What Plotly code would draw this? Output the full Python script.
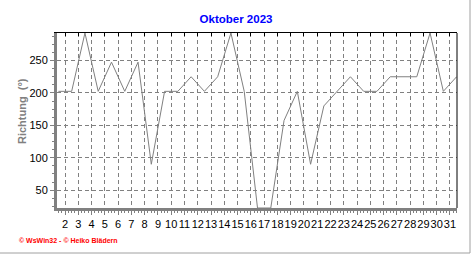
import plotly.graph_objects as go

# Data: daily wind direction (degrees), October 2023
days = list(range(1, 32))
direction = [202.5, 202.5, 292.5, 202.5, 247.5, 202.5, 247.5, 90, 202.5, 202.5,
             225, 202.5, 225, 292.5, 202.5, 22.5, 22.5, 157.5, 202.5, 90,
             180, 202.5, 225, 202.5, 202.5, 225, 225, 225, 292.5, 202.5, 225]
tick_days = list(range(2, 32))
y_ticks = [50, 100, 150, 200, 250]

title_text = "Oktober 2023"
y_title = "Richtung  (°)"
credit = "© WsWin32 - © Heiko Blädern"

GRAY = "#808080"
W, H = 472, 255
ML, MR, MT, MB = 57, 15, 33, 47
PW, PH = W - ML - MR, H - MT - MB

fig = go.Figure()
fig.add_trace(go.Scatter(x=days, y=direction, mode="lines",
                         line=dict(color=GRAY, width=1), hoverinfo="skip",
                         showlegend=False, cliponaxis=True))
# invisible trace to host the top axis (for inward ticks)
fig.add_trace(go.Scatter(x=[days[0]], y=[direction[0]], xaxis="x2", mode="markers",
                         marker=dict(opacity=0), hoverinfo="skip", showlegend=False))

xrange = [0.895, 31.03]
yrange = [22.5, 292.5]
tickpos = [d - 0.5 for d in tick_days]

fig.update_layout(
    width=W, height=H,
    margin=dict(l=ML, r=MR, t=MT, b=MB, pad=0),
    paper_bgcolor="white", plot_bgcolor="white",
    font=dict(family="Liberation Sans, Arial, sans-serif", size=11, color="black"),
    title=dict(text="<b>" + title_text + "</b>", x=0.5, xref="container", xanchor="center",
               y=1 - 19 / H, yref="container", yanchor="middle",
               font=dict(size=11.5, color="#0000ff", family="Liberation Sans, Arial, sans-serif")),
    xaxis=dict(range=xrange, tickvals=tickpos, ticktext=[str(d) for d in tick_days],
               tickangle=0,
               showgrid=True, gridcolor=GRAY, griddash="4px,3px", gridwidth=1,
               showline=True, linecolor=GRAY, linewidth=3,
               ticks="outside", ticklen=4, tickcolor=GRAY, tickwidth=1,
               minor=dict(dtick=0.25, tick0=0.5, ticks="outside", ticklen=2,
                          tickcolor=GRAY, showgrid=False),
               tickfont=dict(size=11, color="black"), zeroline=False, fixedrange=True),
    xaxis2=dict(range=xrange, overlaying="x", side="top", tickvals=tickpos,
                showticklabels=False, showgrid=False, showline=True, linecolor="black",
                linewidth=1, ticks="inside", ticklen=3, tickcolor="black", zeroline=False),
    yaxis=dict(range=yrange, tickvals=y_ticks,
               showgrid=True, gridcolor=GRAY, griddash="4px,3px", gridwidth=1,
               showline=True, linecolor=GRAY, linewidth=3,
               ticks="outside", ticklen=4, tickcolor=GRAY, tickwidth=1,
               minor=dict(dtick=12.5, tick0=0, ticks="outside", ticklen=2,
                          tickcolor=GRAY, showgrid=False),
               tickfont=dict(size=11, color="black"), zeroline=False, fixedrange=True),
    showlegend=False,
)

# right border of plot area
fig.add_shape(type="line", xref="paper", yref="paper", x0=1, x1=1, y0=0, y1=1,
              line=dict(color="black", width=1))

# outer frame lines (right and bottom of the image)
fx = (470 - ML) / PW
fy = -(253 - (H - MB)) / PH
fig.add_shape(type="line", xref="paper", yref="paper", x0=-ML / PW, x1=fx, y0=fy, y1=fy,
              line=dict(color="#a0a0a0", width=1))
fig.add_shape(type="line", xref="paper", yref="paper", x0=fx, x1=fx, y0=fy, y1=(H - MB) / PH,
              line=dict(color="#a0a0a0", width=1))

# y-axis title
fig.add_annotation(text="<b>" + y_title + "</b>", xref="paper", yref="paper",
                   x=(22 - ML) / PW, y=((H - MB) - 111) / PH, showarrow=False,
                   textangle=-90, xanchor="center", yanchor="middle",
                   font=dict(size=11, color=GRAY))

# credit text
fig.add_annotation(text="<b>" + credit + "</b>", xref="paper", yref="paper",
                   x=(17 - ML) / PW, y=((H - MB) - 240.5) / PH, showarrow=False,
                   xanchor="left", yanchor="middle",
                   font=dict(size=7, color="#ff0000"))

fig.write_html("out.html")
